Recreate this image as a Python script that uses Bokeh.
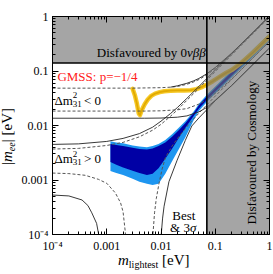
import math
from bokeh.plotting import figure
from bokeh.models import Label, FixedTicker, LogAxis, Range1d, Div
from bokeh.layouts import row, column
from bokeh.embed import file_html
from bokeh.resources import INLINE

# ---------------- data ----------------
tick_vals = [1e-4, 1e-3, 1e-2, 1e-1, 1.0]
tick_labels = ["10\u207b\u2074", "0.001", "0.01", "0.1", "1"]

bb0v_limit = 0.14      # |m_ee| excluded above (0vbb)
cosmo_limit = 0.07     # m_lightest excluded above (cosmology)

# normal ordering, best fit (dashed) / 3 sigma (solid)
nh_max_x = [1e-4, 3e-4, 1e-3, 2e-3, 4e-3, 7e-3, 0.01, 0.015, 0.02, 0.03, 0.05, 0.07, 0.1, 0.3, 1.0]
nh_best_max = [0.0037, 0.0038, 0.0043, 0.0049, 0.0062, 0.0082, 0.0105, 0.0148, 0.0193, 0.029, 0.048, 0.068, 0.098, 0.295, 0.98]
nh_3s_max = [0.0045, 0.0046, 0.0051, 0.0058, 0.0071, 0.0093, 0.0120, 0.0166, 0.0213, 0.0315, 0.052, 0.073, 0.104, 0.31, 1.03]

nh_best_min_x1 = [1e-4, 2e-4, 4e-4, 7e-4, 1e-3, 1.44e-3, 1.8e-3, 2e-3, 2.2e-3, 2.3e-3, 2.34e-3]
nh_best_min_y1 = [0.00134, 0.00131, 0.00122, 0.00103, 0.00087, 0.00058, 0.00038, 0.00026, 0.00011, 0.00005, 0.00001]
nh_best_min_x2 = [0.0068, 0.0071, 0.0076, 0.0082, 0.0092, 0.0105, 0.0121, 0.016, 0.022, 0.035, 0.05, 0.07, 0.1, 0.3, 1.0]
nh_best_min_y2 = [0.00001, 0.0001, 0.00025, 0.00046, 0.00087, 0.0016, 0.0026, 0.0042, 0.0065, 0.0115, 0.0168, 0.024, 0.0346, 0.105, 0.35]

nh_3s_min_x1 = [1e-4, 2e-4, 3.5e-4, 4.5e-4, 5.3e-4, 6.5e-4, 7.1e-4, 7.4e-4, 7.6e-4]
nh_3s_min_y1 = [0.00053, 0.00051, 0.00043, 0.00034, 0.00025, 0.00016, 0.0001, 0.00005, 0.00001]
nh_3s_min_x2 = [0.0099, 0.0101, 0.0107, 0.0114, 0.014, 0.0198, 0.028, 0.037, 0.05, 0.07, 0.1, 0.2, 0.5, 1.0]
nh_3s_min_y2 = [0.00001, 0.0001, 0.0002, 0.00033, 0.00093, 0.0023, 0.0053, 0.0098, 0.0138, 0.0195, 0.0285, 0.054, 0.133, 0.265]

# inverted ordering
ih_max_x = [1e-4, 0.003, 0.01, 0.015, 0.02, 0.03, 0.04, 0.05, 0.07, 0.1, 0.2, 0.5, 1.0]
ih_best_max = [0.0484, 0.0485, 0.0494, 0.0505, 0.052, 0.057, 0.063, 0.0696, 0.085, 0.111, 0.205, 0.5, 0.995]
ih_3s_max_x = [0.015, 0.02, 0.03, 0.04, 0.05, 0.07, 0.1, 0.2, 0.5, 1.0]
ih_3s_max = [0.0505, 0.0535, 0.0595, 0.066, 0.073, 0.089, 0.116, 0.212, 0.51, 1.02]
ih_min_x = [1e-4, 0.005, 0.01, 0.02, 0.03, 0.05, 0.07, 0.1, 0.2, 0.5, 1.0]
ih_best_min = [0.0184, 0.0184, 0.0186, 0.0194, 0.0204, 0.0247, 0.0298, 0.0389, 0.071, 0.176, 0.35]
ih_3s_min = [0.0136, 0.0136, 0.0137, 0.0142, 0.015, 0.0178, 0.0215, 0.029, 0.054, 0.133, 0.265]

# GMSS p=-1/4 prediction, normal ordering (blue bands)
gm_x = [0.00117, 0.0015, 0.002, 0.003, 0.004, 0.0055, 0.007, 0.009, 0.012, 0.016, 0.021, 0.028, 0.04, 0.05, 0.07, 0.1, 0.2, 0.5, 1.0]
gm_light_hi = [0.00514, 0.0049, 0.0047, 0.0043, 0.0041, 0.0040, 0.0042, 0.0046, 0.0054, 0.0069, 0.0090, 0.0120, 0.0180, 0.0250, 0.0365, 0.052, 0.102, 0.25, 0.49]
gm_dark_hi = [0.00459, 0.0044, 0.0042, 0.0039, 0.0037, 0.00362, 0.0038, 0.0042, 0.0049, 0.0062, 0.0081, 0.0110, 0.0170, 0.0235, 0.034, 0.0485, 0.095, 0.232, 0.455]
gm_dark_lo = [0.00214, 0.0019, 0.0017, 0.00148, 0.00135, 0.00124, 0.0013, 0.00165, 0.00245, 0.00375, 0.0058, 0.0090, 0.0150, 0.0205, 0.0295, 0.042, 0.082, 0.2, 0.39]
gm_light_lo = [0.00147, 0.00135, 0.00123, 0.00105, 0.00093, 0.00085, 0.00081, 0.00085, 0.0013, 0.0022, 0.0036, 0.0060, 0.0125, 0.0185, 0.0270, 0.0385, 0.076, 0.183, 0.36]

# GMSS p=-1/4 prediction, inverted ordering (yellow band)
gi_x = [0.0030, 0.0033, 0.0036, 0.0039, 0.0041, 0.0044, 0.0050, 0.0057, 0.0066, 0.0078, 0.0095, 0.0115, 0.015, 0.02, 0.027, 0.035, 0.045, 0.055, 0.069, 0.09, 0.12, 0.16, 0.2, 0.3, 0.5, 1.0]
gi_y = [0.047, 0.036, 0.025, 0.0165, 0.0155, 0.019, 0.0245, 0.030, 0.035, 0.0385, 0.041, 0.0425, 0.0435, 0.044, 0.044, 0.0445, 0.0465, 0.050, 0.0558, 0.065, 0.078, 0.093, 0.104, 0.14, 0.22, 0.43]

# ---------------- figure ----------------
XMIN, XMAX, YMIN, YMAX = 1e-4, 1.0, 1e-4, 1.0
YT_W = 18          # width of the y-title strip at the left
P_W, P_H = 255, 255
p = figure(x_axis_type="log", y_axis_type="log", width=P_W, height=P_H,
           x_range=Range1d(XMIN, XMAX), y_range=Range1d(YMIN, YMAX),
           output_backend="svg", toolbar_location=None,
           min_border_left=30, min_border_right=4, min_border_top=16, min_border_bottom=18,
           margin=0)
p.xgrid.visible = False
p.ygrid.visible = False
p.outline_line_color = "black"
p.outline_line_width = 1
p.background_fill_color = "white"
p.border_fill_color = "white"

minor = [k * 10 ** e for e in range(-4, 0) for k in range(2, 10)]
overrides = dict(zip(tick_vals, tick_labels))
blank = {v: "" for v in tick_vals}
SERIF = "Liberation Serif"

for ax in (p.xaxis[0], p.yaxis[0]):
    ax.ticker = FixedTicker(ticks=tick_vals, minor_ticks=minor)
    ax.major_label_overrides = overrides
    ax.major_tick_in = 6
    ax.major_tick_out = 0
    ax.minor_tick_in = 3
    ax.minor_tick_out = 0
    ax.major_label_text_font = SERIF
    ax.major_label_text_font_size = "12px"
    ax.major_label_text_color = "black"
    ax.major_label_standoff = 4
    ax.axis_line_color = "black"

for side in ("above", "right"):
    ax = LogAxis(ticker=FixedTicker(ticks=tick_vals, minor_ticks=minor),
                 major_tick_in=6, major_tick_out=0, minor_tick_in=3, minor_tick_out=0,
                 major_label_overrides=blank, major_label_text_font_size="1px",
                 major_label_text_alpha=0, major_label_standoff=0,
                 axis_line_color="black")
    p.add_layout(ax, side)

# bands
p.varea(x=gm_x, y1=gm_light_lo, y2=gm_light_hi, fill_color="#1e96f0")
p.varea(x=gm_x, y1=gm_dark_lo, y2=gm_dark_hi, fill_color="#0000a5")
p.line(gi_x, gi_y, line_color="#f6c928", line_width=4.5, line_join="round", line_cap="round")
p.line(gi_x, gi_y, line_color="#e2aa00", line_width=1.8, line_join="round", line_cap="round")

# curves
DASH = dict(line_color="#555555", line_width=1, line_dash="3 2")
SOLID = dict(line_color="#222222", line_width=0.9)
p.line(nh_max_x, nh_best_max, **DASH)
p.line(nh_max_x, nh_3s_max, **SOLID)
p.line(nh_best_min_x1, nh_best_min_y1, **DASH)
p.line(nh_best_min_x2, nh_best_min_y2, **DASH)
p.line(nh_3s_min_x1, nh_3s_min_y1, **SOLID)
p.line(nh_3s_min_x2, nh_3s_min_y2, **SOLID)
p.line(ih_max_x, ih_best_max, **DASH)
p.line(ih_3s_max_x, ih_3s_max, **SOLID)
p.line(ih_min_x, ih_best_min, **DASH)
p.line(ih_min_x, ih_3s_min, **SOLID)

# disfavoured regions
p.patch([XMIN, cosmo_limit, cosmo_limit, XMAX, XMAX, XMIN],
        [bb0v_limit, bb0v_limit, YMIN, YMIN, YMAX, YMAX],
        fill_color="#6e6e6e", fill_alpha=0.62, line_color=None)
p.line([XMIN, XMAX], [bb0v_limit, bb0v_limit], line_color="black", line_width=1.6)
p.line([cosmo_limit, cosmo_limit], [YMIN, YMAX], line_color="black", line_width=1.6)

# ---------------- texts inside the frame ----------------
FL, FT, DEC = 48.0, 16.0, 55.25   # page px of frame left/top, px per decade


def X(px):
    return 10 ** (-4 + (px - FL) / DEC)


def Y(py):
    return 10 ** (-(py - FT) / DEC)


def put(txt, px, py, size=13, style="normal", color="black", align="left", angle=0.0):
    p.add_layout(Label(x=X(px), y=Y(py), text=txt, text_font=SERIF,
                       text_font_size=f"{size}px", text_font_style=style,
                       text_color=color, text_align=align, text_baseline="middle",
                       angle=angle))


put("Disfavoured by 0", 185, 53, align="right")
put("\u03bd\u03b2\u03b2", 185, 53, style="italic")
put("GMSS: p=\u22121/4", 53, 77, color="#ff2020")

put("\u0394m", 50, 101)
put("2", 68.5, 96, size=9)
put("31", 68.5, 105, size=9)
put("< 0", 80, 101)

put("\u0394m", 50, 160)
put("2", 68.5, 155, size=9)
put("31", 68.5, 164, size=9)
put("> 0", 80, 160)

put("Best", 170, 218)
put("& 3", 188, 230, align="right")
put("\u03c3", 188, 230, style="italic")

put("Disfavoured by Cosmology", 251, 154, align="center", angle=math.pi / 2)

# ---------------- axis titles (HTML text with sub-scripts) ----------------
FONT_CSS = "font-family:'Liberation Serif',serif;color:black;white-space:nowrap;"
ytitle = Div(
    text=(f'<div style="width:{YT_W}px;height:{P_H}px;display:flex;align-items:center;'
          f'justify-content:center;padding-top:18px;box-sizing:border-box;">'
          f'<span style="display:inline-block;transform:rotate(-90deg);{FONT_CSS}'
          f'font-size:15px;line-height:16px;">|<i>m</i>'
          f'<span style="font-size:10px;vertical-align:-3px;"><i>ee</i></span>| [eV]</span></div>'),
    width=YT_W, height=P_H, margin=0, styles={"overflow": "visible"})
xtitle = Div(
    text=(f'<div style="position:relative;top:-3px;padding-left:100px;{FONT_CSS}'
          f'font-size:15px;line-height:17px;"><i>m</i>'
          f'<span style="font-size:10px;vertical-align:-3px;">lightest</span> [eV]</div>'),
    width=P_W, height=18, margin=0, styles={"overflow": "visible"})

layout = row(column(ytitle, margin=0), column(p, xtitle, margin=0), margin=0)

open("out.html", "w").write(file_html(layout, INLINE))
